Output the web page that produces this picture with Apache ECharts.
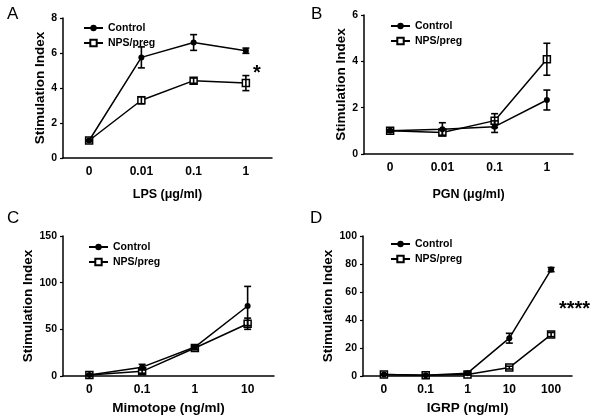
<!DOCTYPE html>
<html><head><meta charset="utf-8">
<script src="https://cdn.jsdelivr.net/npm/echarts@6/dist/echarts.min.js"></script>
<style>html,body{margin:0;padding:0;background:#fff}#c{width:601px;height:420px}</style>
</head><body><div id="c"></div>
<script>
const seriesNames = ['Control', 'NPS/preg'];
// Panel A: LPS
const catsA = ['0', '0.01', '0.1', '1'];
const controlA = [1.0, 5.75, 6.6, 6.13];
const controlAErr = [0.05, 0.6, 0.45, 0.15];
const npsA = [1.0, 3.3, 4.42, 4.28];
const npsAErr = [0.05, 0.2, 0.15, 0.43];
const yTicksA = [0, 2, 4, 6, 8];
// Panel B: PGN
const catsB = ['0', '0.01', '0.1', '1'];
const controlB = [1.0, 1.07, 1.18, 2.33];
const controlBErr = [0.05, 0.28, 0.25, 0.43];
const npsB = [1.0, 0.93, 1.44, 4.09];
const npsBErr = [0.05, 0.12, 0.3, 0.69];
const yTicksB = [0, 2, 4, 6];
// Panel C: Mimotope
const catsC = ['0', '0.1', '1', '10'];
const controlC = [1, 9.5, 31, 75];
const controlCErr = [0.5, 3, 2, 21];
const npsC = [1, 5, 30, 56];
const npsCErr = [0.5, 2, 2, 6];
const yTicksC = [0, 50, 100, 150];
// Panel D: IGRP
const catsD = ['0', '0.1', '1', '10', '100'];
const controlD = [1, 0.5, 2, 27, 76];
const controlDErr = [0.3, 0.3, 0.5, 3.5, 1.5];
const npsD = [1, 0.5, 1, 6, 29.6];
const npsDErr = [0.3, 0.3, 0.3, 1, 1.5];
const yTicksD = [0, 20, 40, 60, 80, 100];

const panels = [
  {letter:'A', cats:catsA, ctl:controlA, ctlE:controlAErr, nps:npsA, npsE:npsAErr, ticks:yTicksA, xName:'LPS (\u03bcg/ml)',
   grid:{left:63, top:18, width:209, height:140}, yGap:15, xGap:30, xNameSize:12.5, legend:{left:78, top:17}, lx:7, ly:6},
  {letter:'B', cats:catsB, ctl:controlB, ctlE:controlBErr, nps:npsB, npsE:npsBErr, ticks:yTicksB, xName:'PGN (\u03bcg/ml)',
   grid:{left:364, top:15, width:209, height:139}, yGap:16, xGap:34, xNameSize:12.5, legend:{left:385, top:15}, lx:311, ly:6},
  {letter:'C', cats:catsC, ctl:controlC, ctlE:controlCErr, nps:npsC, npsE:npsCErr, ticks:yTicksC, xName:'Mimotope (ng/ml)',
   grid:{left:63, top:236, width:211, height:140}, yGap:28, xGap:25, xNameSize:13.5, legend:{left:83, top:236}, lx:7, ly:210},
  {letter:'D', cats:catsD, ctl:controlD, ctlE:controlDErr, nps:npsD, npsE:npsDErr, ticks:yTicksD, xName:'IGRP (ng/ml)',
   grid:{left:363, top:236, width:209, height:140}, yGap:28, xGap:25, xNameSize:13.5, legend:{left:385, top:233}, lx:310, ly:210}
];

const FONT = "'Liberation Sans', Arial, sans-serif";
const grids = [], xAxes = [], yAxes = [], series = [], legends = [], graphics = [];

function errRender(params, api) {
  const i = api.value(0), v = api.value(1), e = api.value(2);
  const t = api.coord([i, v + e]), b = api.coord([i, v - e]);
  const hw = 3.5;
  const st = {stroke:'#000', lineWidth:1.6};
  return {type:'group', children:[
    {type:'line', shape:{x1:t[0], y1:t[1], x2:b[0], y2:b[1]}, style:st},
    {type:'line', shape:{x1:t[0]-hw, y1:t[1], x2:t[0]+hw, y2:t[1]}, style:st},
    {type:'line', shape:{x1:b[0]-hw, y1:b[1], x2:b[0]+hw, y2:b[1]}, style:st}
  ]};
}

panels.forEach((p, k) => {
  grids.push(Object.assign({containLabel:false}, p.grid));
  xAxes.push({
    type:'category', gridIndex:k, data:p.cats, boundaryGap:true,
    name:p.xName, nameLocation:'middle', nameGap:p.xGap,
    nameTextStyle:{fontFamily:FONT, fontWeight:'bold', fontSize:p.xNameSize, color:'#000'},
    axisLine:{lineStyle:{color:'#000', width:1.5}},
    axisTick:{alignWithLabel:true, length:3, lineStyle:{color:'#000', width:1.2}},
    axisLabel:{fontFamily:FONT, fontWeight:'bold', fontSize:12, color:'#000', margin:8},
    splitLine:{show:false}
  });
  const tk = p.ticks;
  yAxes.push({
    type:'value', gridIndex:k, min:tk[0], max:tk[tk.length-1], interval:tk[1]-tk[0],
    name:'Stimulation Index', nameLocation:'middle', nameGap:p.yGap,
    nameTextStyle:{fontFamily:FONT, fontWeight:'bold', fontSize:13.5, color:'#000'},
    axisLine:{show:true, lineStyle:{color:'#000', width:1.5}},
    axisTick:{show:true, length:3, lineStyle:{color:'#000', width:1.2}},
    axisLabel:{fontFamily:FONT, fontWeight:'bold', fontSize:10.5, color:'#000', margin:6},
    splitLine:{show:false}
  });
  series.push({
    type:'line', name:'NPS/preg', xAxisIndex:k, yAxisIndex:k, data:p.nps,
    symbol:'rect', symbolSize:7, z:3,
    lineStyle:{color:'#000', width:1.5},
    itemStyle:{color:'#fff', borderColor:'#000', borderWidth:1.5}
  });
  series.push({
    type:'line', name:'Control', xAxisIndex:k, yAxisIndex:k, data:p.ctl,
    symbol:'circle', symbolSize:6, z:4,
    lineStyle:{color:'#000', width:1.5},
    itemStyle:{color:'#000', borderColor:'#000', borderWidth:0}
  });
  series.push({
    type:'custom', name:'ctlErr', xAxisIndex:k, yAxisIndex:k, renderItem:errRender, z:5,
    data:p.ctl.map((v,i)=>[i, v, p.ctlE[i]])
  });
  series.push({
    type:'custom', name:'npsErr', xAxisIndex:k, yAxisIndex:k, renderItem:errRender, z:5,
    data:p.nps.map((v,i)=>[i, v, p.npsE[i]])
  });
  legends.push({
    data:seriesNames, orient:'vertical', left:p.legend.left, top:p.legend.top,
    selectedMode:false, itemWidth:19, itemHeight:8, itemGap:3,
    textStyle:{fontFamily:FONT, fontWeight:'bold', fontSize:10.5, color:'#000', lineHeight:12}
  });
  graphics.push({type:'text', left:p.lx, top:p.ly,
    style:{text:p.letter, font:"17px "+FONT, fill:'#000'}});
});

graphics.push({type:'text', left:253, top:63, style:{text:'*', font:"bold 20px "+FONT, fill:'#000'}});
graphics.push({type:'text', left:559, top:299, style:{text:'****', font:"bold 20px "+FONT, fill:'#000'}});

const chart = echarts.init(document.getElementById('c'), null, {renderer:'canvas'});
chart.setOption({
  animation:false, backgroundColor:'#fff',
  grid:grids, xAxis:xAxes, yAxis:yAxes, series:series, legend:legends, graphic:graphics
});
</script></body></html>
